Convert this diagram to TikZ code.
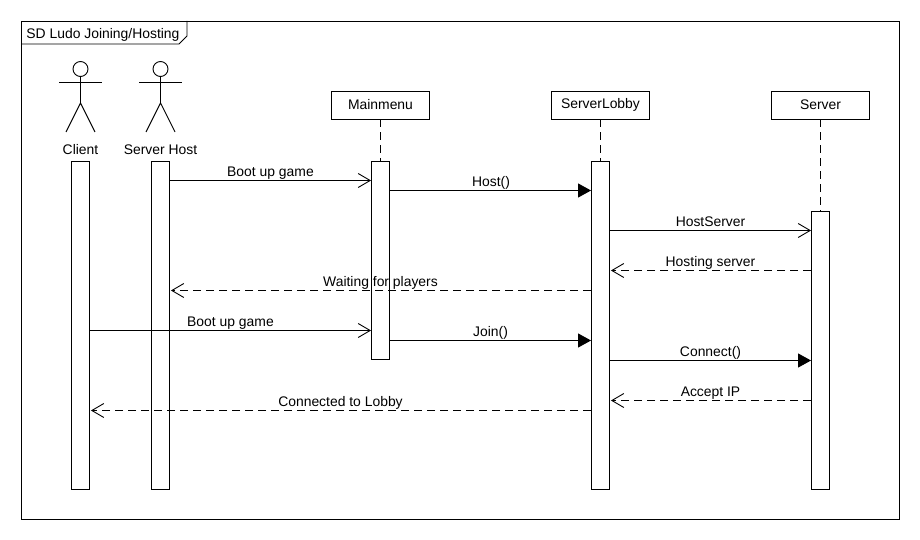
\documentclass[tikz,border=0pt]{standalone}
\usepackage{fontspec}
\setmainfont{Liberation Sans}
\usetikzlibrary{arrows.meta}
\tikzset{
  x=1pt,y=-1pt,
  every path/.style={line width=0.9pt,black},
  txt/.style={inner sep=0pt,anchor=base,font=\fontsize{13.9}{15}\selectfont},
  headbox/.style={draw,fill=white,minimum width=98,minimum height=28,inner sep=0pt,font=\fontsize{13.9}{15}\selectfont},
  bar/.style={draw,fill=white,minimum width=18,inner sep=0pt,anchor=north},
  dashline/.style={dash pattern=on 8pt off 5pt},
  syncm/.style={-{Triangle[length=13pt,width=14pt]}},
  openm/.style={-{Straight Barb[length=12pt,width=14pt,line width=0.9pt]}},
  retm/.style={dashline,-{Straight Barb[length=12pt,width=14pt,line width=0.9pt]}},
}
\begin{document}
\begin{tikzpicture}
\useasboundingbox (0,0) rectangle (920,540);
\fill[white] (0,0) rectangle (920,540);
% frame
\draw (21,21) rectangle (899,519);
\draw (21,44) -- (179,44) -- (187,36) -- (187,21);
\node[txt,anchor=base west] (title) at (26,39) {SD Ludo Joining/Hosting};
% actors
\foreach \n/\x/\lab in {client/80.5/Client,host/160.5/Server Host}{
  \draw (\x,69) circle (7.5);
  \draw (\x,76.5) -- (\x,103);
  \draw (\x-21.5,82) -- (\x+21.5,82);
  \draw (\x-14.5,132) -- (\x,103) -- (\x+14.5,132);
  \node[txt] (\n label) at (\x,154.5) {\lab};
}
% heads
\node[headbox] (mm) at (380.5,105) {Mainmenu};
\node[headbox] (lobby) at (600.5,105) {ServerLobby};
\node[headbox] (srv) at (820.5,105) {Server};
% activation bars
\node[bar,minimum height=327.5] (clientbar) at (80.5,161.5) {};
\node[bar,minimum height=327.5] (hostbar) at (160.5,161.5) {};
\node[bar,minimum height=197.5] (mmbar) at (380.5,161.5) {};
\node[bar,minimum height=327.5] (lobbybar) at (600.5,161.5) {};
\node[bar,minimum height=278] (srvbar) at (820.5,211) {};
% lifelines
\draw[dashline] (mm.south) -- (mmbar.north);
\draw[dashline] (lobby.south) -- (lobbybar.north);
\draw[dashline] (srv.south) -- (srvbar.north);
% messages
\draw[openm] (hostbar.east |- 0,180.5) -- (mmbar.west |- 0,180.5);
\node[txt] (m1) at (270.5,176) {Boot up game};
\draw[syncm] (mmbar.east |- 0,190.5) -- (lobbybar.west |- 0,190.5);
\node[txt] (m2) at (491,186) {Host()};
\draw[openm] (lobbybar.east |- 0,230.5) -- (srvbar.west |- 0,230.5);
\node[txt] (m3) at (710.5,226) {HostServer};
\draw[retm] (srvbar.west |- 0,270.5) -- ([xshift=1pt]lobbybar.east |- 0,270.5);
\node[txt] (m4) at (710.5,266) {Hosting server};
\draw[retm] (lobbybar.west |- 0,290.5) -- ([xshift=1pt]hostbar.east |- 0,290.5);
\node[txt] (m5) at (380.5,286) {Waiting for players};
\draw[openm] (clientbar.east |- 0,330.5) -- (mmbar.west |- 0,330.5);
\node[txt] (m6) at (230.5,326) {Boot up game};
\draw[syncm] (mmbar.east |- 0,340.5) -- (lobbybar.west |- 0,340.5);
\node[txt] (m7) at (490.5,336) {Join()};
\draw[syncm] (lobbybar.east |- 0,360.5) -- (srvbar.west |- 0,360.5);
\node[txt] (m8) at (710.5,356) {Connect()};
\draw[retm] (srvbar.west |- 0,400.5) -- ([xshift=1pt]lobbybar.east |- 0,400.5);
\node[txt] (m9) at (710.5,396) {Accept IP};
\draw[retm] (lobbybar.west |- 0,410.5) -- ([xshift=1pt]clientbar.east |- 0,410.5);
\node[txt] (m10) at (340.5,406) {Connected to Lobby};
\end{tikzpicture}
\end{document}
